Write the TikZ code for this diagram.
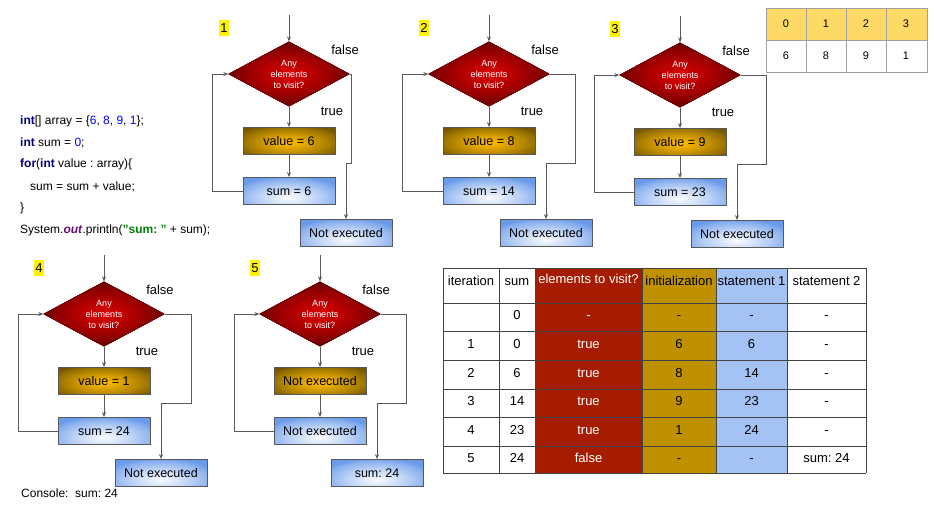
\documentclass[tikz,border=0pt]{standalone}
\usepackage{fontspec}
\setmainfont{Liberation Sans}
\usetikzlibrary{shapes.geometric,arrows.meta}

\definecolor{linegray}{HTML}{595959}
\definecolor{gridgray}{HTML}{434343}
\definecolor{agridgray}{HTML}{A0A0A0}
\definecolor{testin}{HTML}{DC0000}
\definecolor{testout}{HTML}{640000}
\definecolor{valin}{HTML}{FFBC00}
\definecolor{valout}{HTML}{765800}
\definecolor{sumin}{HTML}{F8FAFF}
\definecolor{sumout}{HTML}{6A9BEA}
\definecolor{visitred}{HTML}{A61C00}
\definecolor{initgold}{HTML}{BF9000}
\definecolor{stmtblue}{HTML}{A4C2F4}
\definecolor{idxgold}{HTML}{FFD966}
\definecolor{kwcol}{HTML}{000080}
\definecolor{numcol}{HTML}{0000FF}
\definecolor{fldcol}{HTML}{660E7A}
\definecolor{strcol}{HTML}{008000}

\newcommand{\kwd}[1]{\textcolor{kwcol}{\textbf{#1}}}
\newcommand{\numc}[1]{\textcolor{numcol}{#1}}

\tikzset{
  flow/.style={draw=linegray, line width=0.8pt, -{Stealth[length=5pt,width=4pt]}},
  % glow = inner colour / outer colour / x radius / y radius / shift of centre
  glow/.style n args={5}{fill=#2, path picture={
    \foreach \gk in {0,...,19}{
      \pgfmathtruncatemacro\gp{100*(\gk/19)^0.8}
      \pgfmathsetmacro\gr{1-\gk/20}
      \fill[#1!\gp!#2] ([yshift=#5]path picture bounding box.center)
        ellipse [x radius=\gr*#3, y radius=\gr*#4];
    }}},
  test/.style={diamond, glow={testin}{testout}{64pt}{33pt}{0pt}, draw=testout, line width=0.4pt,
    minimum width=121pt, minimum height=63pt, inner sep=0pt, align=center,
    text=white, font=\fontsize{9}{11}\selectfont},
  valbox/.style={rectangle, glow={valin}{valout}{58pt}{19pt}{-2pt}, draw=linegray, line width=0.8pt,
    minimum width=92pt, minimum height=27pt, inner sep=0pt,
    font=\fontsize{12.5}{14}\selectfont},
  sumbox/.style={valbox, glow={sumin}{sumout}{60pt}{22pt}{-7pt}},
  lbl/.style={font=\fontsize{13}{15}\selectfont, inner sep=0pt},
  numtag/.style={fill=yellow, font=\fontsize{13}{15}\selectfont, inner sep=1pt,
    text height=11pt, text depth=2.5pt},
  code/.style={anchor=base west, inner sep=0pt, font=\fontsize{12}{14}\selectfont},
  cell/.style={font=\fontsize{13}{15}\selectfont, text height=9.5pt, text depth=0pt, inner sep=0pt},
  acell/.style={font=\fontsize{11}{13}\selectfont, inner sep=0pt},
  grid/.style={draw=gridgray, line width=0.8pt},
  agrid/.style={draw=agridgray, line width=0.8pt}
}

\begin{document}
\frenchspacing
\begin{tikzpicture}[x=1pt,y=-1pt]
    \useasboundingbox (0,0) rectangle (934,506);

    % code
    \node[code] (c1) at (20,124) {\kwd{int}[] array = \{\numc{6}, \numc{8}, \numc{9}, \numc{1}\};};
    \node[code] (c2) at (20,146) {\kwd{int} sum = \numc{0};};
    \node[code] (c3) at (20,167.5) {\kwd{for}(\kwd{int} value : array)\{};
    \node[code] (c4) at (20,190) {\hspace*{10pt}sum = sum + value;};
    \node[code] (c5) at (20,211) {\}};
    \node[code] (c6) at (20,233) {System.\textcolor{fldcol}{\textbf{\textit{out}}}.println(\textcolor{strcol}{\textbf{"sum: "}} + sum);};
    \node[code] (con) at (21,497) {Console:\ \ sum: 24};

    % flowcharts
    \foreach \n/\cx/\cy/\lx/\fx/\vl/\sm/\ex in {
      1/289/74/-77/62/{value = 6}/{sum = 6}/{Not executed},
      2/489/74/-87/86/{value = 8}/{sum = 14}/{Not executed},
      3/680/75/-86/86/{value = 9}/{sum = 23}/{Not executed},
      4/104/314/-86/87/{value = 1}/{sum = 24}/{Not executed},
      5/320/314/-86/86/{Not executed}/{Not executed}/{sum: 24}}
    {
      \coordinate (in\n) at (\cx,\cy-59);
      \node[numtag] (k\n) at (\cx-65,\cy-46) {\n};
      \node[test] (d\n) at (\cx,\cy) {Any\\elements\\to visit?};
      \node[valbox] (v\n) at (\cx,\cy+67) {\vl};
      \node[sumbox] (s\n) at (\cx,\cy+117) {\sm};
      \node[sumbox] (e\n) at (\cx+57,\cy+159) {\ex};
      \node[lbl] (f\n) at (\cx+56,\cy-24) {false};
      \node[lbl] (t\n) at (\cx+43,\cy+37) {true};
      \coordinate (l\n) at (\cx+\lx,\cy+117);
      \coordinate (r\n) at (\cx+\fx,\cy+89);
      \draw[flow] (in\n) -- (d\n.north);
      \draw[flow] (d\n.south) -- (v\n.north);
      \draw[flow] (v\n.south) -- (s\n.north);
      \draw[flow] (s\n.west) -- (l\n) |- (d\n.west);
      \draw[flow] (d\n.east) -| (r\n) -| (e\n.north);
    }

    % array
    \fill[idxgold] (766,8) rectangle (927,40);
    \draw[agrid] (766,8) rectangle (927,72);
    \draw[agrid] (766,40) -- (927,40);
    \foreach \x in {806,846,886}
    \draw[agrid] (\x,8) -- (\x,72);
    \foreach \i/\v [count=\k] in {0/6,1/8,2/9,3/1} {
      \node[acell] (a\k) at (786+40*\k-40,24) {\i};
      \node[acell] (b\k) at (786+40*\k-40,56) {\v};
    }

    % trace table
    \fill[visitred] (535,268) rectangle (642,473);
    \fill[initgold] (642,268) rectangle (716,473);
    \fill[stmtblue] (716,268) rectangle (787,473);
    \foreach \x in {443,499,535,642,716,787,866}
    \draw[grid] (\x,268) -- (\x,473);
    \foreach \y in {268,303,331,360,389,417,446,473}
    \draw[grid] (443,\y) -- (866,\y);
    \node[cell] (h1) at (471,281) {iteration};
    \node[cell] (h2) at (517,281) {sum};
    \node[cell, text=white] (h3) at (588.5,279) {elements to visit?};
    \node[cell] (h4) at (679,281) {initialization};
    \node[cell] (h5) at (751.5,281) {statement 1};
    \node[cell] (h6) at (826.5,281) {statement 2};
    \foreach \i/\y/\a/\b/\c/\d/\e/\f in {
      0/315/{}/0/-/-/-/-,
      1/343.5/1/0/true/6/6/-,
      2/372.5/2/6/true/8/14/-,
      3/401/3/14/true/9/23/-,
      4/429.5/4/23/true/1/24/-,
      5/457.5/5/24/false/-/-/{sum: 24}}
    {
      \node[cell] (r\i-1) at (471,\y) {\a};
      \node[cell] (r\i-2) at (517,\y) {\b};
      \node[cell, text=white] (r\i-3) at (588.5,\y) {\c};
      \node[cell] (r\i-4) at (679,\y) {\d};
      \node[cell] (r\i-5) at (751.5,\y) {\e};
      \node[cell] (r\i-6) at (826.5,\y) {\f};
    }
\end{tikzpicture}
\end{document}
